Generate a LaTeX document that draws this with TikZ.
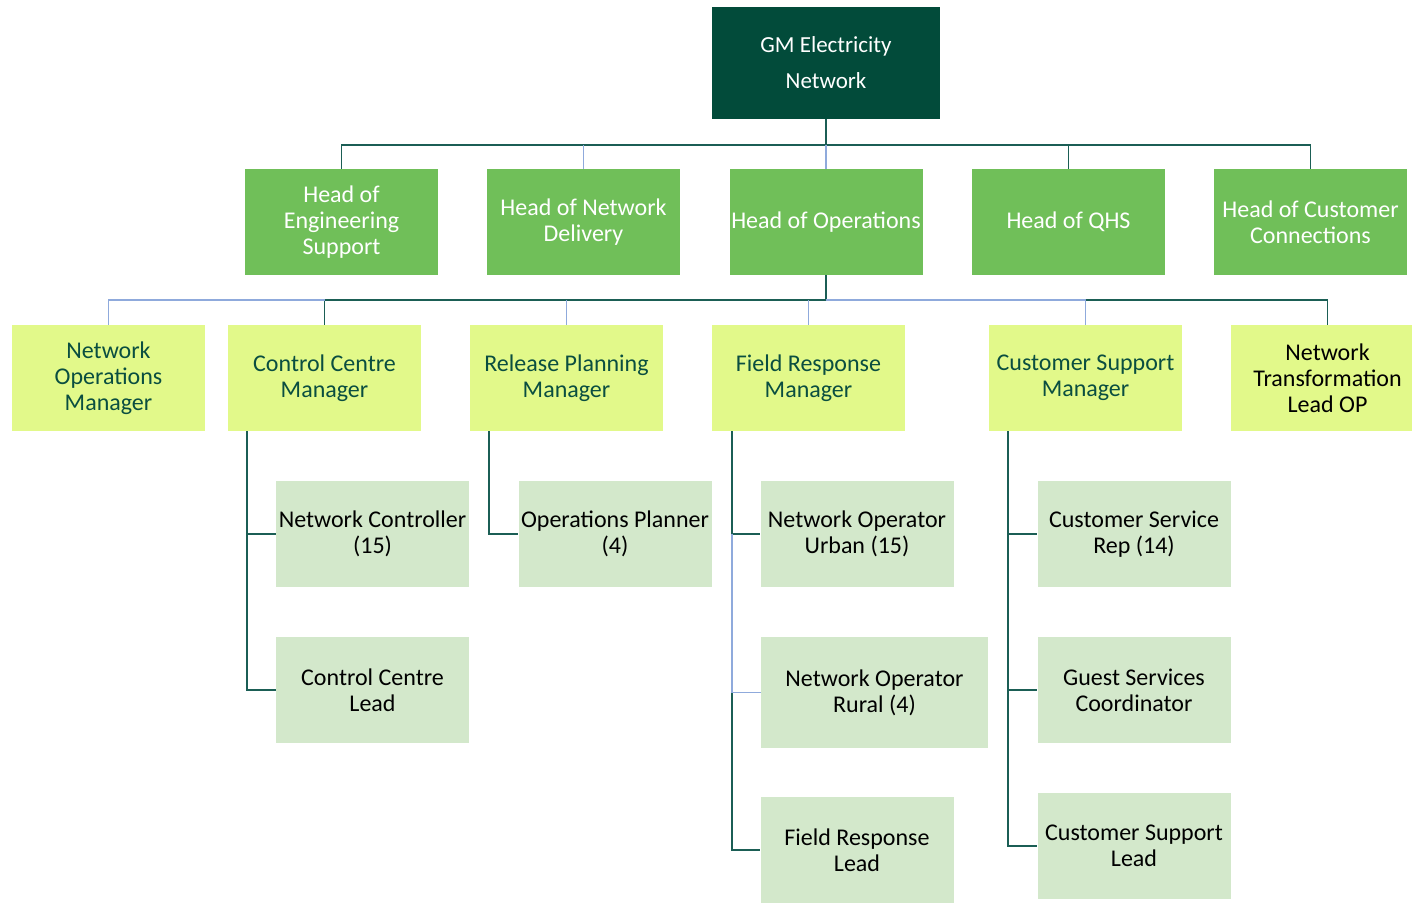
\documentclass[tikz,border=0pt]{standalone}
\usepackage{fontspec}
\setmainfont{Carlito}
\definecolor{gmdark}{RGB}{2,75,58}
\definecolor{gmgreen}{RGB}{112,191,89}
\definecolor{gmlime}{RGB}{226,249,138}
\definecolor{gmpale}{RGB}{211,232,203}
\definecolor{gmtext}{RGB}{10,78,64}
\definecolor{gmline}{RGB}{27,94,85}
\definecolor{gmblue}{RGB}{143,170,220}
\tikzset{
    every node/.style={align=center, inner sep=0pt,
    	font=\fontsize{24}{26}\selectfont}
}
\tikzset{
    top/.style={fill=gmdark, text=white, minimum width=228pt,
    	minimum height=112pt, font=\fontsize{23}{36}\selectfont},
    head/.style={fill=gmgreen, text=white, minimum width=193pt,
    	minimum height=106pt},
    mgr/.style={fill=gmlime, text=gmtext, minimum width=193pt,
    	minimum height=106pt},
    role/.style={fill=gmpale, text=black, minimum width=193pt,
    	minimum height=106pt}
}
\tikzset{
    link/.style={draw=gmline, line width=1.6pt},
    linkb/.style={draw=gmblue, line width=1.8pt}
}

\begin{document}
\begin{tikzpicture}[x=1pt, y=-1pt]
	\useasboundingbox (0,0) rectangle (1412,902);
	\node (gm) [top] at (826,63) {GM Electricity\\Network};

	\node (eng) [head] at (341.5,222) {Head of\\Engineering\\Support};
	\node (del) [head] at (583.5,222) {Head of Network\\Delivery};
	\node (ops) [head] at (826,222) {Head of Operations};
	\node (qhs) [head] at (1068.5,222) {Head of QHS};
	\node (cust) [head] at (1310.5,222) {Head of Customer\\Connections};

	\node (nom) [mgr] at (108.5,378) {Network\\Operations\\Manager};
	\node (ccm) [mgr] at (324.5,378) {Control Centre\\Manager};
	\node (rpm) [mgr] at (566.5,378) {Release Planning\\Manager};
	\node (frm) [mgr] at (808.5,378) {Field Response\\Manager};
	\node (csm) [mgr] at (1085.5,378) {Customer Support\\Manager};
	\node (ntl) [mgr, text=black] at (1327.5,378)
		{Network\\Transformation\\Lead OP};

	\node (nc) [role] at (372.5,534) {Network Controller\\(15)};
	\node (ccl) [role] at (372.5,690) {Control Centre\\Lead};
	\node (op) [role] at (615,534) {Operations Planner\\(4)};
	\node (nou) [role] at (857,534) {Network Operator\\Urban (15)};
	\node (nor) [role, minimum width=227pt, minimum height=111pt]
		at (874.5,692.5) {Network Operator\\Rural (4)};
	\node (frl) [role] at (857,850) {Field Response\\Lead};
	\node (csr) [role] at (1134,534) {Customer Service\\Rep (14)};
	\node (gsc) [role] at (1134,690) {Guest Services\\Coordinator};
	\node (csl) [role] at (1134,846) {Customer Support\\Lead};

	% first bus
	\coordinate (t) at (826,145);
	\draw[link] (gm.south) -- (t);
	\draw[link] (t) -| (eng.north);
	\draw[link] (t) -| (cust.north);
	\draw[linkb] (t) -- (ops.north);
	\draw[linkb] (del.north) -- (del.north |- t);
	\draw[link] (qhs.north) -- (qhs.north |- t);

	% second bus
	\coordinate (m) at (826,300);
	\draw[link] (ops.south) -- (m);
	\draw[link] (m) -| (ccm.north);
	\draw[linkb] (ccm.north |- m) -| (nom.north);
	\draw[linkb] (m) -| (csm.north);
	\draw[link] (csm.north |- m) -| (ntl.north);
	\draw[linkb] (rpm.north) -- (rpm.north |- m);
	\draw[linkb] (frm.north) -- (frm.north |- m);

	% branches
	\draw[link] ([xshift=19pt]ccm.south west) |- (nc.west);
	\draw[link] ([xshift=19pt]ccm.south west) |- (ccl.west);
	\draw[link] ([xshift=19pt]rpm.south west) |- (op.west);
	\draw[link] ([xshift=20pt]frm.south west) |- (nou.west);
	\draw[link] ([xshift=20pt]frm.south west) |- (frl.west);
	\draw[linkb] ([xshift=20pt]frm.south west |- nou.west) |- (nor.west);
	\draw[link] ([xshift=19pt]csm.south west) |- (csr.west);
	\draw[link] ([xshift=19pt]csm.south west) |- (gsc.west);
	\draw[link] ([xshift=19pt]csm.south west) |- (csl.west);
\end{tikzpicture}
\end{document}
